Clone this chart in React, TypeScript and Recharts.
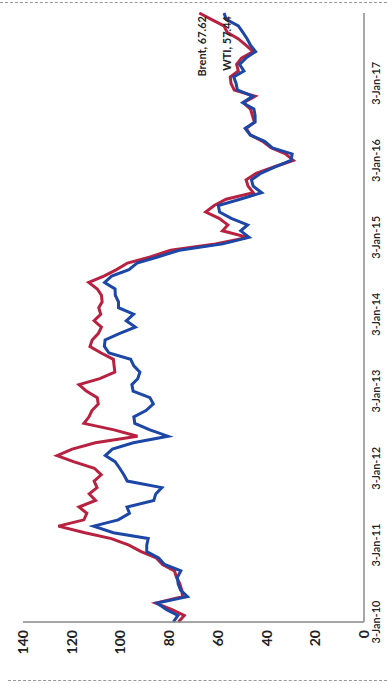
import React from "react";
import { LineChart, Line, XAxis, YAxis } from "recharts";

// monthly spot prices, $/bbl
const months = [
  "2010-01", "2010-02", "2010-03", "2010-04", "2010-05", "2010-06", "2010-07", "2010-08", "2010-09", "2010-10", "2010-11", "2010-12",
  "2011-01", "2011-02", "2011-03", "2011-04", "2011-05", "2011-06", "2011-07", "2011-08", "2011-09", "2011-10", "2011-11", "2011-12",
  "2012-01", "2012-02", "2012-03", "2012-04", "2012-05", "2012-06", "2012-07", "2012-08", "2012-09", "2012-10", "2012-11", "2012-12",
  "2013-01", "2013-02", "2013-03", "2013-04", "2013-05", "2013-06", "2013-07", "2013-08", "2013-09", "2013-10", "2013-11", "2013-12",
  "2014-01", "2014-02", "2014-03", "2014-04", "2014-05", "2014-06", "2014-07", "2014-08", "2014-09", "2014-10", "2014-11", "2014-12",
  "2015-01", "2015-02", "2015-03", "2015-04", "2015-05", "2015-06", "2015-07", "2015-08", "2015-09", "2015-10", "2015-11", "2015-12",
  "2016-01", "2016-02", "2016-03", "2016-04", "2016-05", "2016-06", "2016-07", "2016-08", "2016-09", "2016-10", "2016-11", "2016-12",
  "2017-01", "2017-02", "2017-03", "2017-04", "2017-05", "2017-06", "2017-07", "2017-08", "2017-09", "2017-10", "2017-11", "2017-12",
];

const brent = [
  76.2, 73.8, 78.8, 85.5, 74.5, 74.8, 75.6, 77.0, 77.8, 82.7, 85.3, 91.5,
  96.5, 103.7, 114.6, 125.5, 115.0, 113.8, 117.0, 110.2, 112.8, 109.6, 110.8, 107.9,
  110.7, 119.3, 126.0, 119.8, 110.3, 93.0, 102.6, 115.0, 112.9, 111.7, 109.1, 109.5,
  114.0, 117.0, 108.5, 102.3, 102.6, 102.9, 107.9, 112.5, 111.6, 109.1, 107.8, 110.8,
  108.1, 108.9, 107.5, 107.8, 109.5, 113.0, 106.8, 101.6, 97.1, 87.4, 79.4, 61.0,
  47.8, 58.1, 55.9, 59.5, 65.0, 61.5, 56.6, 45.5, 47.6, 48.4, 44.3, 37.0,
  29.0, 32.2, 38.2, 41.6, 46.7, 48.3, 45.0, 45.8, 46.6, 49.5, 44.7, 53.3,
  54.6, 54.9, 51.6, 52.3, 50.3, 45.5, 48.5, 51.7, 56.2, 57.5, 62.7, 67.62,
];

const wti = [
  78.3, 76.4, 81.2, 85.0, 72.5, 75.3, 76.3, 76.6, 75.2, 81.9, 84.3, 89.2,
  89.2, 88.6, 102.9, 111.0, 100.9, 96.3, 97.3, 86.3, 85.5, 83.0, 97.2, 98.6,
  100.3, 102.2, 106.2, 103.3, 94.7, 80.5, 87.9, 94.1, 94.5, 89.5, 86.5, 87.9,
  94.8, 95.3, 92.9, 92.0, 94.5, 95.8, 104.7, 106.6, 106.3, 100.5, 93.9, 97.6,
  94.6, 100.8, 100.8, 102.1, 102.2, 106.5, 103.6, 96.5, 93.2, 84.4, 75.8, 58.0,
  47.2, 50.6, 47.8, 54.5, 59.3, 59.8, 50.9, 42.0, 45.5, 46.2, 42.4, 36.5,
  30.0, 29.5, 37.6, 40.8, 46.7, 48.8, 44.7, 44.7, 45.2, 49.8, 45.7, 52.0,
  52.5, 53.5, 49.3, 51.1, 48.5, 44.5, 46.6, 48.0, 49.8, 51.6, 56.6, 57.44,
];

const tickDates = ["2010-01-03", "2011-01-03", "2012-01-03", "2013-01-03", "2014-01-03", "2015-01-03", "2016-01-03", "2017-01-03"];
const tickLabels = ["3-Jan-10", "3-Jan-11", "3-Jan-12", "3-Jan-13", "3-Jan-14", "3-Jan-15", "3-Jan-16", "3-Jan-17"];
const valueTicks = [0, 20, 40, 60, 80, 100, 120, 140];

const toTime = (s: string) => {
  const [y, m, d] = s.split("-").map(Number);
  return Date.UTC(y, m - 1, d);
};

const data = months.map((m, i) => ({ t: toTime(m + "-03"), brent: brent[i], wti: wti[i] }));
const ticks = tickDates.map(toTime);
const labelFor = (t: number) => tickLabels[ticks.indexOf(t)] ?? "";

const font = "Lato, 'Open Sans', sans-serif";

const endLabel = (name: string) => (props: any) => {
  const { x, y, index, value } = props;
  if (index !== data.length - 1) return null;
  return (
    <text x={x - 3} y={y + 2} textAnchor="end" dominantBaseline="central"
      fontSize={11} fontWeight={700} fill="#222" fontFamily={font}>
      {name}, {value}
    </text>
  );
};

export default function App() {
  return (
    <div style={{ position: "absolute", left: 0, top: 0, width: 387, height: 684, background: "#fff", overflow: "hidden" }}>
      <div style={{ position: "absolute", left: 0, right: 0, top: 2, borderTop: "1px dashed #999" }} />
      <div style={{ position: "absolute", left: 8, right: 0, top: 680, borderTop: "1px dashed #999" }} />
      <div style={{ position: "absolute", left: 0, top: 0, width: 684, height: 387,
        transform: "translateY(684px) rotate(-90deg)", transformOrigin: "0 0" }}>
        <LineChart width={684} height={387} data={data} margin={{ top: 23, right: 13, bottom: 0, left: 0 }}>
          <XAxis dataKey="t" type="number" domain={[ticks[0], toTime("2017-12-03")]} ticks={ticks}
            interval={0} tickFormatter={labelFor} height={23} tickLine={false}
            axisLine={{ stroke: "#888", strokeWidth: 1.5 }}
            tick={{ fontSize: 11, fontWeight: 600, fill: "#222", fontFamily: font }} />
          <YAxis type="number" domain={[0, 140]} ticks={valueTicks} interval={0} width={62} tickLine={false}
            axisLine={{ stroke: "#888", strokeWidth: 1.5 }}
            tick={{ fontSize: 14, fontWeight: 700, fill: "#222", fontFamily: font }} />
          <Line dataKey="brent" stroke="#b8213f" strokeWidth={3} dot={false} isAnimationActive={false}
            label={endLabel("Brent")} />
          <Line dataKey="wti" stroke="#1c47a6" strokeWidth={3} dot={false} isAnimationActive={false}
            label={endLabel("WTI")} />
        </LineChart>
      </div>
    </div>
  );
}
